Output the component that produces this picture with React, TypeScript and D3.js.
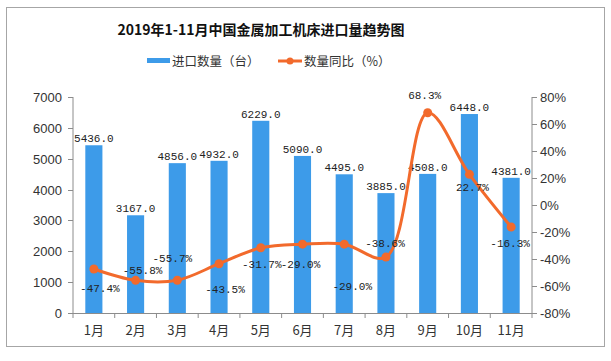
import React from "react";
import * as d3 from "d3";

const months = ["1月", "2月", "3月", "4月", "5月", "6月", "7月", "8月", "9月", "10月", "11月"];
const importQty = [5436, 3167, 4856, 4932, 6229, 5090, 4495, 3885, 4508, 6448, 4381];
const yoyPct = [-47.4, -55.8, -55.7, -43.5, -31.7, -29.0, -29.0, -38.6, 68.3, 22.7, -16.3];
const leftTicks = [0, 1000, 2000, 3000, 4000, 5000, 6000, 7000];
const rightTicks = [-80, -60, -40, -20, 0, 20, 40, 60, 80];

// label offsets for the line's value labels (dx, dy from the point)
const pctLabelOffsets: [number, number][] = [
  [6, 19], [7, -10], [-5, -22], [6, 25], [1, 16], [-2, 20], [8, 42], [-1, -14], [-3, -18], [3, 13], [-1, 16],
];

const W = 611, H = 361;
const margin = { left: 73, right: 532, top: 97, bottom: 313 };
const BAR = "#3d9be9";
const LINE = "#f26a2c";
const AXIS = "#8c8c8c";
const TXT = "#333";

export default function App() {
  const x = d3.scaleBand<string>().domain(months).range([margin.left, margin.right]).paddingInner(0).paddingOuter(0);
  const yL = d3.scaleLinear().domain([0, 7000]).range([margin.bottom, margin.top]);
  const yR = d3.scaleLinear().domain([-80, 80]).range([margin.bottom, margin.top]);
  const bw = x.bandwidth() * 0.41;
  const cx = (m: string) => (x(m) as number) + x.bandwidth() / 2;
  const linePath = d3
    .line<number>()
    .x((_, i) => cx(months[i]))
    .y((d) => yR(d))
    .curve(d3.curveCatmullRom.alpha(0.5))(yoyPct) as string;

  const cjk = "'Noto Sans CJK SC', 'Liberation Sans', sans-serif";
  const mono = "'Liberation Mono', 'DejaVu Sans Mono', monospace";

  return (
    <svg width={W} height={H} style={{ position: "absolute", left: 0, top: 0 }}>
      <rect x={0} y={0} width={W} height={H} fill="#fff" />
      <rect x={6.5} y={7.5} width={598} height={339} fill="#fff" stroke="#a6a6a6" strokeWidth={1} />

      <text x={261} y={35} textAnchor="middle" fontFamily={cjk} fontWeight="bold" fontSize={14} fill="#111">
        2019年1-11月中国金属加工机床进口量趋势图
      </text>

      {/* legend */}
      <rect x={147} y={58} width={23} height={5} fill={BAR} />
      <text x={172} y={66} fontFamily={cjk} fontSize={12.5} fill={TXT}>进口数量（台）</text>
      <line x1={278} x2={302} y1={61} y2={61} stroke={LINE} strokeWidth={3} />
      <circle cx={290} cy={61} r={3.5} fill={LINE} />
      <text x={304} y={66} fontFamily={cjk} fontSize={12.5} fill={TXT}>数量同比（%）</text>

      {/* bars */}
      {importQty.map((v, i) => (
        <rect key={months[i]} x={cx(months[i]) - bw / 2} y={yL(v)} width={bw} height={yL(0) - yL(v)} fill={BAR} />
      ))}

      {/* axes */}
      <line x1={margin.left} x2={margin.left} y1={margin.top} y2={margin.bottom} stroke={AXIS} />
      <line x1={margin.right} x2={margin.right} y1={margin.top} y2={margin.bottom} stroke={AXIS} />
      <line x1={margin.left} x2={margin.right} y1={margin.bottom + 0.5} y2={margin.bottom + 0.5} stroke={AXIS} />
      {leftTicks.map((t) => (
        <g key={"l" + t}>
          <line x1={margin.left - 5} x2={margin.left} y1={Math.round(yL(t)) + 0.5} y2={Math.round(yL(t)) + 0.5} stroke={AXIS} />
          <text x={margin.left - 11} y={yL(t) + 5} textAnchor="end" fontFamily="'Liberation Sans', Arial, sans-serif" fontSize={13} fill={TXT}>
            {t}
          </text>
        </g>
      ))}
      {rightTicks.map((t) => (
        <g key={"r" + t}>
          <line x1={margin.right} x2={margin.right + 5} y1={Math.round(yR(t)) + 0.5} y2={Math.round(yR(t)) + 0.5} stroke={AXIS} />
          <text x={margin.right + 8} y={yR(t) + 5} textAnchor="start" fontFamily="'Liberation Sans', Arial, sans-serif" fontSize={13} fill={TXT}>
            {t}%
          </text>
        </g>
      ))}
      {months.map((m) => (
        <line key={"bt" + m} x1={(x(m) as number)} x2={(x(m) as number)} y1={margin.bottom} y2={margin.bottom + 5} stroke={AXIS} />
      ))}
      <line x1={margin.right} x2={margin.right} y1={margin.bottom} y2={margin.bottom + 5} stroke={AXIS} />
      {months.map((m) => (
        <text key={"bl" + m} x={cx(m)} y={335} textAnchor="middle" fontFamily={cjk} fontSize={13} fill={TXT}>
          {m}
        </text>
      ))}

      {/* bar value labels */}
      {importQty.map((v, i) => (
        <text key={"bv" + i} x={cx(months[i])} y={yL(v) - 3} textAnchor="middle" fontFamily={mono} fontSize={11} fill="#222">
          {v.toFixed(1)}
        </text>
      ))}

      {/* line */}
      <path d={linePath} fill="none" stroke={LINE} strokeWidth={3} />
      {yoyPct.map((v, i) => (
        <circle key={"pt" + i} cx={cx(months[i])} cy={yR(v)} r={4.5} fill={LINE} />
      ))}
      {yoyPct.map((v, i) => (
        <text
          key={"pl" + i}
          x={cx(months[i]) + pctLabelOffsets[i][0]}
          y={yR(v) + pctLabelOffsets[i][1] + 4}
          textAnchor="middle"
          fontFamily={mono}
          fontSize={11}
          fill="#222"
        >
          {v.toFixed(1)}%
        </text>
      ))}
    </svg>
  );
}
